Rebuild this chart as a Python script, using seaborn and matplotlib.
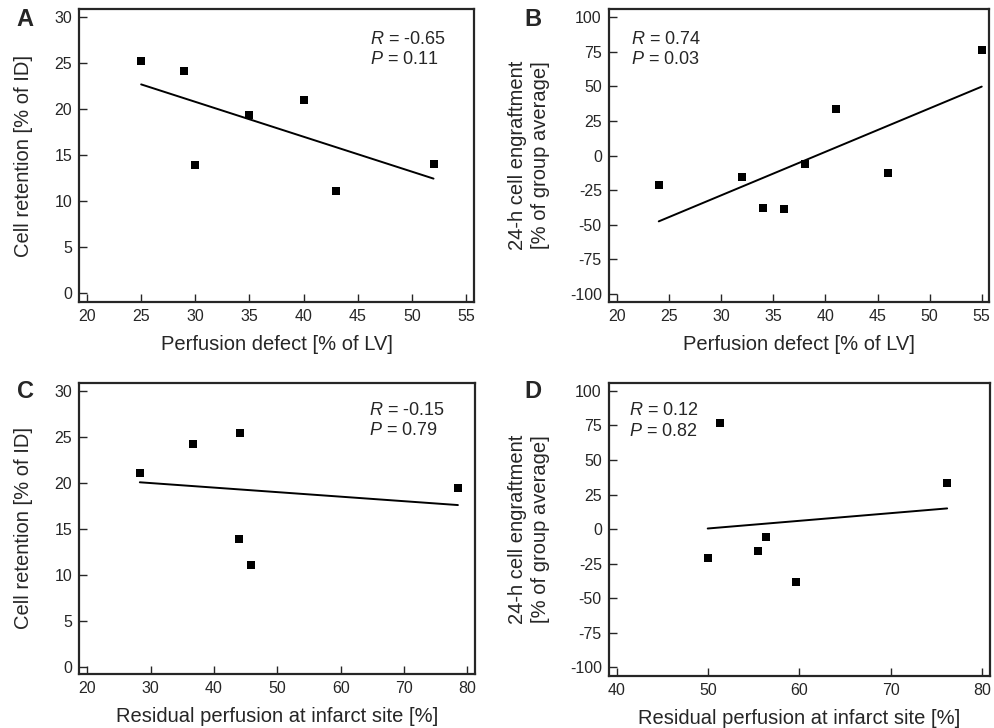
import matplotlib
matplotlib.use("Agg")
import matplotlib.pyplot as plt
import seaborn as sns

# Panel A: perfusion defect vs cell retention
a_defect = [25, 29, 30, 35, 40, 43, 52]
a_retention = [25.3, 24.2, 13.9, 19.4, 21.0, 11.1, 14.1]

# Panel B: perfusion defect vs 24-h engraftment
b_defect = [24, 32, 34, 36, 38, 41, 46, 55]
b_engraft = [-21.3, -15.9, -37.9, -38.9, -6.0, 33.3, -12.6, 76.6]

# Panel C: residual perfusion vs cell retention
c_residual = [28.3, 36.7, 44.1, 44.0, 45.9, 78.5]
c_retention = [21.0, 24.2, 25.4, 13.9, 11.05, 19.4]

# Panel D: residual perfusion vs 24-h engraftment
d_residual = [49.95, 51.3, 55.5, 56.3, 59.6, 76.2]
d_engraft = [-20.7, 76.6, -15.7, -5.8, -38.1, 33.7]

stats = {"A": ("-0.65", "0.11"), "B": ("0.74", "0.03"),
         "C": ("-0.15", "0.79"), "D": ("0.12", "0.82")}

ret_ticks = [0, 5, 10, 15, 20, 25, 30]
eng_ticks = [-100, -75, -50, -25, 0, 25, 50, 75, 100]

sns.set_style("ticks")
plt.rcParams["font.family"] = ["Liberation Sans", "DejaVu Sans"]
plt.rcParams["mathtext.fontset"] = "custom"
plt.rcParams["mathtext.rm"] = "Liberation Sans"
plt.rcParams["mathtext.it"] = "Liberation Sans:italic"
plt.rcParams["axes.unicode_minus"] = False

fig = plt.figure(figsize=(9.95, 7.28), dpi=100)
axA = fig.add_axes([0.0794, 0.5852, 0.397, 0.4024])
axB = fig.add_axes([0.6118, 0.5852, 0.3822, 0.4024])
axC = fig.add_axes([0.0794, 0.0738, 0.398, 0.4005])
axD = fig.add_axes([0.6118, 0.0719, 0.3832, 0.4025])


def draw(ax, x, y, letter, xticks, yticks, xlim, ylim, xlabel, ylabel, txt_pos, ypad):
    sns.regplot(x=x, y=y, ax=ax, ci=None, marker="s", color="black",
                scatter_kws={"s": 36, "linewidths": 0, "alpha": 1},
                line_kws={"lw": 1.4})
    ax.set_xlim(xlim)
    ax.set_ylim(ylim)
    ax.set_xticks(xticks)
    ax.set_yticks(yticks)
    ax.tick_params(direction="in", length=6, width=1.0, labelsize=11.5,
                   top=False, right=False, pad=5)
    for sp in ax.spines.values():
        sp.set_linewidth(1.6)
        sp.set_visible(True)
    ax.set_xlabel(xlabel, fontsize=14.5, labelpad=8)
    ax.set_ylabel(ylabel, fontsize=14.5, labelpad=ypad, linespacing=1.3)
    r, p = stats[letter]
    ax.text(txt_pos[0], txt_pos[1], f"$R$ = {r}\n$P$ = {p}", transform=ax.transAxes,
            ha="left", va="top", fontsize=13, linespacing=1.25)


draw(axA, a_defect, a_retention, "A", range(20, 56, 5), ret_ticks,
     (19.26, 55.74), (-0.94, 30.9), "Perfusion defect [% of LV]",
     "Cell retention [% of ID]", (0.737, 0.925), 15)
draw(axB, b_defect, b_engraft, "B", range(20, 56, 5), eng_ticks,
     (19.2, 55.7), (-106, 106), "Perfusion defect [% of LV]",
     "24-h cell engraftment\n[% of group average]", (0.058, 0.925), 14)
draw(axC, c_residual, c_retention, "C", range(20, 81, 10), ret_ticks,
     (18.7, 81.2), (-0.83, 30.87), "Residual perfusion at infarct site [%]",
     "Cell retention [% of ID]", (0.732, 0.935), 15)
draw(axD, d_residual, d_engraft, "D", range(40, 81, 10), eng_ticks,
     (39.1, 80.9), (-106, 106), "Residual perfusion at infarct site [%]",
     "24-h cell engraftment\n[% of group average]", (0.054, 0.933), 14)

for letter, (px, py) in {"A": (25, 19), "B": (533, 19), "C": (25, 392), "D": (533, 392)}.items():
    fig.text(px / 995, 1 - py / 728, letter, fontsize=17, fontweight="bold",
             ha="center", va="center")

fig.savefig("out.png", dpi=100)
